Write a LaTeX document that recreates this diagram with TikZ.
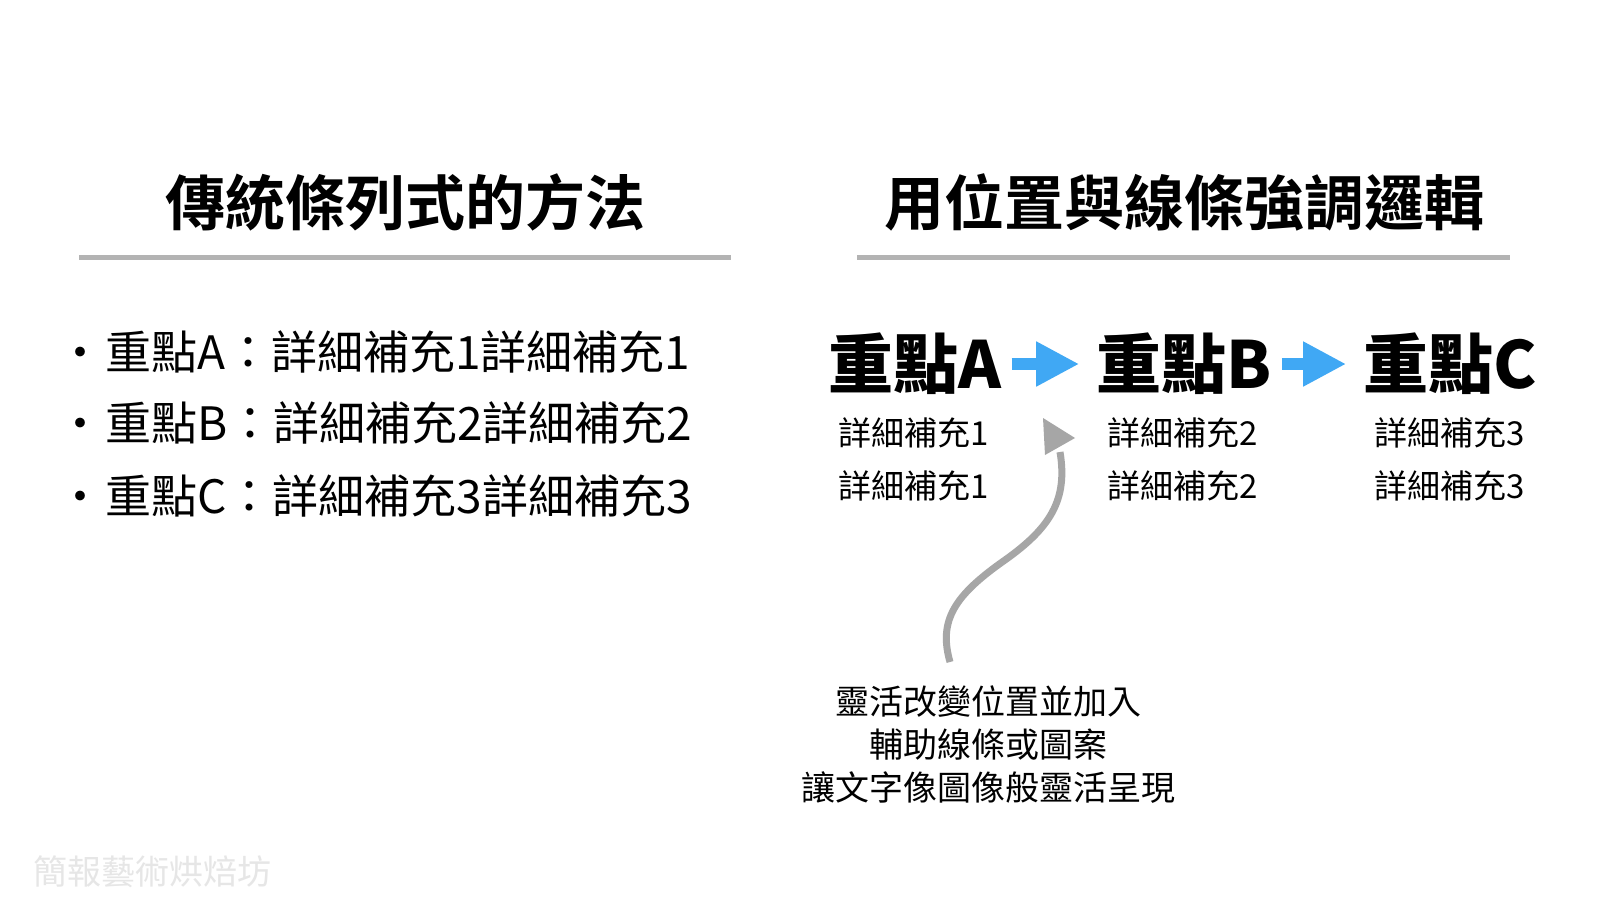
\documentclass[tikz,border=0pt]{standalone}
\usepackage{fontspec}
\setmainfont{Noto Sans CJK TC}[BoldFont={Noto Sans CJK TC Bold}]
\newfontfamily\heavycjk{Noto Sans CJK TC Black}
\usetikzlibrary{arrows.meta}
\definecolor{rulegray}{HTML}{B3B3B3}
\definecolor{curvegray}{HTML}{A6A6A6}
\definecolor{skyblue}{HTML}{40A8F4}
\definecolor{markgray}{HTML}{E6E6E6}
\tikzset{
  title/.style={font=\fontsize{60}{70}\selectfont\bfseries, inner sep=0pt},
  rulebar/.style={rulegray, line width=5pt},
  bullet/.style={font=\fontsize{46}{52}\selectfont, inner sep=0pt, anchor=west},
  keypoint/.style={font=\fontsize{65}{75}\selectfont\heavycjk, inner sep=0pt},
  detail/.style={font=\fontsize{33}{40}\selectfont, inner sep=0pt},
  note/.style={font=\fontsize{34}{43}\selectfont, inner sep=0pt, align=center},
  flowarrow/.style={skyblue, line width=12pt, -{Triangle[length=43pt, width=42pt]}},
}
\begin{document}
\begin{tikzpicture}[x=1pt, y=-1pt]
\useasboundingbox (0,0) rectangle (1600,900);
\fill[white] (0,0) rectangle (1600,900);

% left column
\node[title] (tl) at (405,202) {傳統條列式的方法};
\coordinate (l1) at (79,257);
\coordinate (l2) at (731,257);
\draw[rulebar] (l1) -- (l2);
\node[bullet] (ba) at (57,352) {·\hspace{2pt}重點A：詳細補充1詳細補充1};
\node[bullet] (bb) at (57,423) {·\hspace{2pt}重點B：詳細補充2詳細補充2};
\node[bullet] (bc) at (57,496) {·\hspace{2pt}重點C：詳細補充3詳細補充3};

% right column
\node[title] (tr) at (1184,202) {用位置與線條強調邏輯};
\coordinate (r1) at (857,257);
\coordinate (r2) at (1510,257);
\draw[rulebar] (r1) -- (r2);

\node[keypoint] (ka) at (915,364) {重點A};
\node[keypoint] (kb) at (1184,364) {重點B};
\node[keypoint] (kc) at (1450,364) {重點C};
\draw[flowarrow] ([xshift=10pt]ka.east) -- ([xshift=-17pt]kb.west);
\draw[flowarrow] ([xshift=10pt]kb.east) -- ([xshift=-17pt]kc.west);

\node[detail] (da1) at (914,433) {詳細補充1};
\node[detail] (da2) at (914,486) {詳細補充1};
\node[detail] (db1) at (1183,433) {詳細補充2};
\node[detail] (db2) at (1183,486) {詳細補充2};
\node[detail] (dc1) at (1450,433) {詳細補充3};
\node[detail] (dc2) at (1450,486) {詳細補充3};

% note and curved arrow
\node[note] (nt) at (988,745) {靈活改變位置並加入\\輔助線條或圖案\\讓文字像圖像般靈活呈現};
\coordinate (cs) at (950,662);
\coordinate (cm) at (1005,560);
\coordinate (ce) at (1060,452);
\draw[curvegray, line width=7pt] (cs) .. controls (938,620) and (955,595) .. (cm)
  .. controls (1050,528) and (1068,500) .. (ce);
\fill[curvegray] (1043,418) -- (1075,438) -- (1045,455) -- cycle;

% watermark
\node[font=\fontsize{34}{40}\selectfont, text=markgray, inner sep=0pt, anchor=west] (wm) at (33,872) {簡報藝術烘焙坊};
\end{tikzpicture}
\end{document}
